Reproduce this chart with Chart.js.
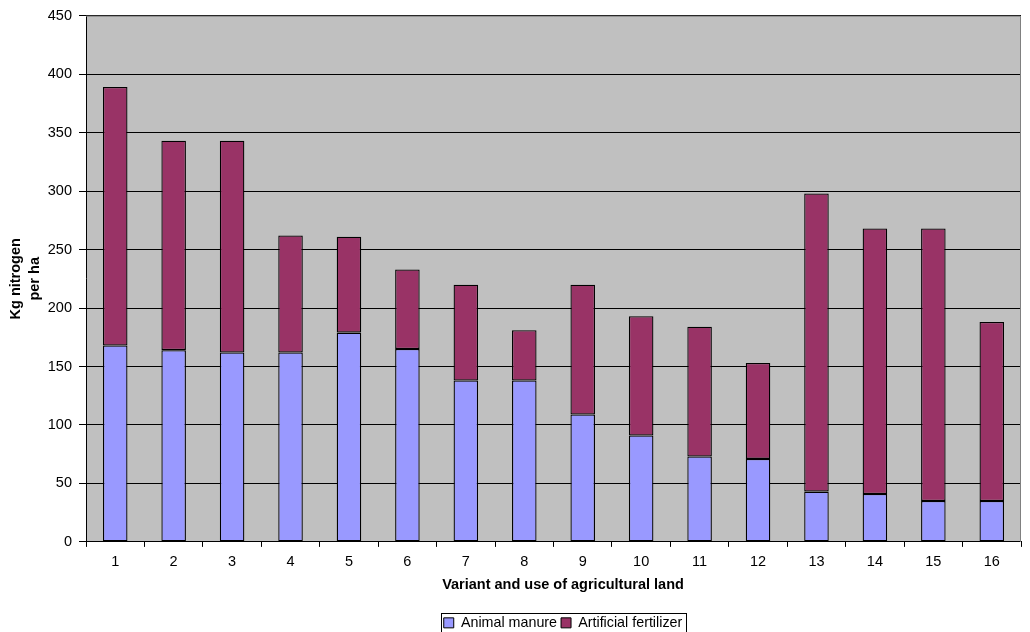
<!DOCTYPE html>
<html>
<head>
<meta charset="utf-8">
<script src="https://cdn.jsdelivr.net/npm/chart.js@4/dist/chart.umd.min.js"></script>
<style>
  html, body { margin: 0; padding: 0; background: #fff; }
  #wrap { width: 1030px; height: 632px; position: relative; }
</style>
</head>
<body>
<div id="wrap"><canvas id="c" width="1030" height="632"></canvas></div>
<script>
// Variants 1–16
const categories = ['1','2','3','4','5','6','7','8','9','10','11','12','13','14','15','16'];
// Kg nitrogen per ha from animal manure
const animalManure = [168, 164, 162, 162, 179, 165, 138, 138, 109, 91, 73, 71, 43, 41, 35, 35];
// Kg nitrogen per ha from artificial fertilizer (stacked on top of manure)
const artificialFertilizer = [221, 179, 181, 100, 82, 68, 82, 43, 111, 102, 111, 82, 255, 227, 233, 153];
const yTicks = [0, 50, 100, 150, 200, 250, 300, 350, 400, 450];

const FONT = 'Liberation Sans, Arial, sans-serif';
const FS = 14.5;
// x-axis title and legend sit slightly right of the plot centre
const BOTTOM_SHIFT = 9.5;

// Grey plot background, thin frame on top/right, box round the legend,
// and horizontal offset of the x title and legend
const plotFrame = {
  id: 'plotFrame',
  afterLayout(chart) {
    const a = chart.chartArea;
    const lg = chart.legend;
    if (lg) {
      const target = (a.left + a.right) / 2 + BOTTOM_SHIFT;
      const dx = target - (lg.left + lg.right) / 2;
      lg.left += dx;
      lg.right += dx;
    }
    const xs = chart.scales.x;
    if (xs && !xs._shiftedTitle) {
      const orig = xs.drawTitle;
      xs.drawTitle = function () {
        const ctx = this.ctx;
        ctx.save();
        ctx.translate(BOTTOM_SHIFT, 0);
        orig.apply(this, arguments);
        ctx.restore();
      };
      xs._shiftedTitle = true;
    }
  },
  beforeDraw(chart) {
    const { ctx, chartArea: a } = chart;
    ctx.save();
    ctx.fillStyle = '#C0C0C0';
    ctx.fillRect(a.left, a.top, a.right - a.left, a.bottom - a.top);
    ctx.restore();
  },
  afterDraw(chart) {
    const { ctx, chartArea: a } = chart;
    ctx.save();
    ctx.strokeStyle = '#808080';
    ctx.lineWidth = 1;
    ctx.beginPath();
    ctx.moveTo(a.left, a.top + 0.5);
    ctx.lineTo(a.right - 0.5, a.top + 0.5);
    ctx.lineTo(a.right - 0.5, a.bottom);
    ctx.stroke();
    const lg = chart.legend;
    if (lg && lg.legendHitBoxes && lg.legendHitBoxes.length) {
      const hb = lg.legendHitBoxes;
      const l = Math.min(...hb.map(h => h.left)) - 3;
      const r = Math.max(...hb.map(h => h.left + h.width)) + 3;
      const t = Math.min(...hb.map(h => h.top)) - 3;
      const b = Math.max(...hb.map(h => h.top + h.height)) + 2;
      ctx.strokeStyle = '#000';
      ctx.strokeRect(Math.round(l) + 0.5, Math.round(t) + 0.5, Math.round(r - l), Math.round(b - t));
    }
    ctx.restore();
  }
};

new Chart(document.getElementById('c'), {
  type: 'bar',
  data: {
    labels: categories,
    datasets: [
      {
        label: 'Animal manure',
        data: animalManure,
        backgroundColor: '#9999FF',
        borderColor: '#000',
        borderWidth: 1.3,
        borderSkipped: false,
        barPercentage: 0.42,
        categoryPercentage: 1.0
      },
      {
        label: 'Artificial fertilizer',
        data: artificialFertilizer,
        backgroundColor: '#993366',
        borderColor: '#000',
        borderWidth: 1.3,
        borderSkipped: false,
        barPercentage: 0.42,
        categoryPercentage: 1.0
      }
    ]
  },
  options: {
    responsive: false,
    animation: false,
    devicePixelRatio: 1,
    layout: { padding: { top: 15, right: 9, left: 0, bottom: -8 } },
    plugins: {
      tooltip: { enabled: false },
      legend: {
        position: 'bottom',
        labels: {
          font: { family: FONT, size: 14.3 },
          color: '#000',
          boxWidth: 10,
          boxHeight: 10,
          padding: 4,
          generateLabels(chart) {
            return chart.data.datasets.map((d, i) => ({
              text: d.label,
              fillStyle: d.backgroundColor,
              strokeStyle: '#000',
              lineWidth: 1,
              datasetIndex: i,
              fontColor: '#000'
            }));
          }
        }
      }
    },
    scales: {
      x: {
        stacked: true,
        grid: {
          display: true,
          drawOnChartArea: false,
          drawTicks: true,
          tickLength: 5,
          offset: true,
          color: '#000'
        },
        border: { display: true, color: '#000' },
        ticks: {
          font: { family: FONT, size: FS },
          color: '#000',
          padding: 6,
          maxRotation: 0
        },
        title: {
          display: true,
          text: 'Variant and use of agricultural land',
          font: { family: FONT, size: FS, weight: 'bold' },
          color: '#000',
          padding: { top: 0, bottom: 18 }
        }
      },
      y: {
        stacked: true,
        min: 0,
        max: 450,
        afterBuildTicks(scale) {
          scale.ticks = yTicks.map(v => ({ value: v }));
        },
        afterFit(scale) { scale.width = 86; },
        grid: {
          color: '#000',
          lineWidth: 1,
          drawTicks: true,
          tickLength: 7
        },
        border: { display: true, color: '#000' },
        ticks: {
          font: { family: FONT, size: FS },
          color: '#000',
          padding: 7
        },
        title: {
          display: true,
          text: ['Kg nitrogen', 'per ha'],
          font: { family: FONT, size: FS, weight: 'bold', lineHeight: 1.3 },
          color: '#000',
          padding: { top: 7, bottom: 0 }
        }
      }
    }
  },
  plugins: [plotFrame]
});
</script>
</body>
</html>
